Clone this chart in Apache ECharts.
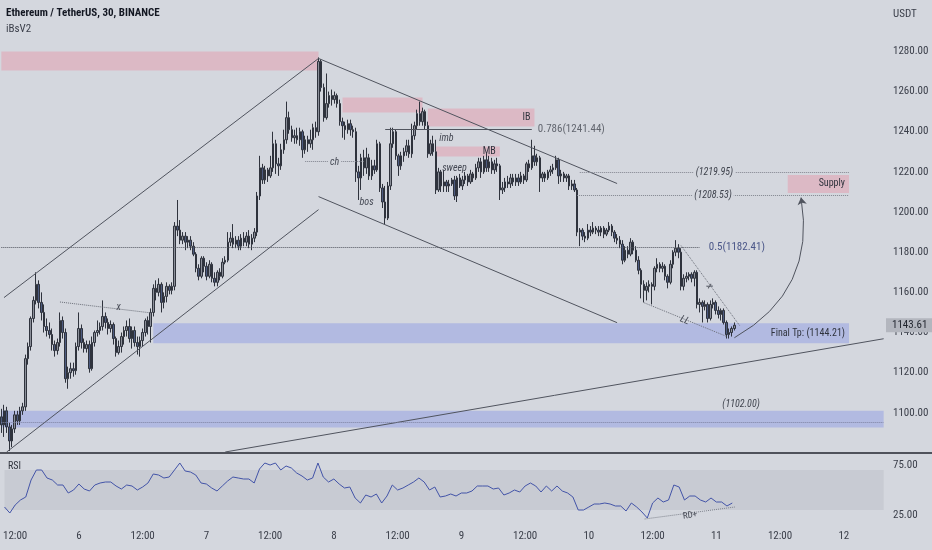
<!DOCTYPE html>
<html>
<head>
<meta charset="utf-8">
<script src="https://cdn.jsdelivr.net/npm/echarts@6/dist/echarts.min.js"></script>
<style>
html,body{margin:0;padding:0;background:#d4d7de;}
#chart{width:932px;height:550px;}
</style>
</head>
<body>
<div id="chart"></div>
<script>
// ================= DATA =================
// 30-minute candles, first candle = day 5, 10:00
const startDay = 5, startMinute = 600, stepMinutes = 30, slotCount = 332;

const opens = [
1098,1094,1101,1093,1086,1092,1099,1096,1101,1103,
1127,1133,1147,1156,1164,1155,1150,1143,1141,1139,
1134,1131,1135,1146,1140,1117,1120,1122,1121,1133,
1142,1135,1132,1134,1122,1135,1140,1141,1143,1148,
1145,1142,1144,1137,1130,1133,1138,1141,1143,1137,
1141,1135,1133,1136,1140,1146,1143,1150,1162,1160,
1164,1155,1158,1163,1161,1163,1193,1191,1186,1188,
1185,1186,1183,1179,1172,1168,1177,1173,1168,1174,
1167,1165,1170,1168,1175,1176,1185,1187,1184,1186,
1183,1187,1185,1188,1184,1187,1190,1208,1222,1216,
1221,1218,1222,1234,1224,1223,1231,1236,1247,1241,
1237,1238,1236,1240,1231,1236,1234,1236,1242,1240,
1275,1262,1247,1254,1258,1256,1258,1254,1245,1243,
1241,1244,1241,1240,1220,1217,1227,1222,1227,1218,
1223,1221,1234,1212,1205,1197,1213,1234,1240,1228,
1223,1228,1230,1233,1229,1238,1243,1249,1245,1250,
1243,1229,1234,1230,1211,1220,1213,1215,1213,1214,
1216,1208,1217,1213,1216,1218,1215,1219,1217,1222,
1225,1220,1226,1222,1225,1221,1224,1223,1211,1212,
1215,1214,1217,1215,1217,1215,1218,1216,1224,1222,
1228,1225,1227,1217,1219,1217,1220,1221,1222,1226,
1218,1219,1217,1218,1213,1214,1211,1190,1191,1188,
1187,1191,1190,1192,1191,1190,1192,1189,1191,1193,
1190,1187,1186,1184,1176,1181,1179,1185,1181,1176,
1171,1164,1161,1163,1164,1163,1172,1174,1172,1173,
1168,1165,1174,1180,1182,1180,1163,1167,1168,1169,
1167,1170,1154,1155,1153,1154,1147,1154,1155,1151,
1149,1151,1145,1139,1140,1142
];
const closes = [
1094,1101,1093,1086,1092,1099,1096,1101,1103,1127,
1133,1147,1156,1164,1155,1150,1143,1141,1139,1134,
1131,1135,1146,1140,1117,1120,1122,1121,1133,1142,
1135,1132,1134,1122,1135,1140,1141,1143,1148,1145,
1142,1144,1137,1130,1133,1138,1141,1143,1137,1141,
1135,1133,1136,1140,1146,1143,1150,1162,1160,1164,
1155,1158,1163,1161,1163,1193,1191,1186,1188,1185,
1186,1183,1179,1172,1168,1177,1173,1168,1174,1167,
1165,1170,1168,1175,1176,1185,1187,1184,1186,1183,
1187,1185,1188,1184,1187,1190,1208,1222,1216,1221,
1218,1222,1234,1224,1223,1231,1236,1247,1241,1237,
1238,1236,1240,1231,1236,1234,1236,1242,1240,1275,
1262,1247,1254,1258,1256,1258,1254,1245,1243,1241,
1244,1241,1240,1220,1217,1227,1222,1227,1218,1223,
1221,1234,1212,1205,1197,1213,1234,1240,1228,1223,
1228,1230,1233,1229,1238,1243,1249,1245,1250,1243,
1229,1234,1230,1211,1220,1213,1215,1213,1214,1216,
1208,1217,1213,1216,1218,1215,1219,1217,1222,1225,
1220,1226,1222,1225,1221,1224,1223,1211,1212,1215,
1214,1217,1215,1217,1215,1218,1216,1224,1222,1228,
1225,1227,1217,1219,1217,1220,1221,1222,1226,1218,
1219,1217,1218,1213,1214,1211,1190,1191,1188,1187,
1191,1190,1192,1191,1190,1192,1189,1191,1193,1190,
1187,1186,1184,1176,1181,1179,1185,1181,1176,1171,
1164,1161,1163,1164,1163,1172,1174,1172,1173,1168,
1165,1174,1180,1182,1180,1163,1167,1168,1169,1167,
1170,1154,1155,1153,1154,1147,1154,1155,1151,1149,
1151,1145,1139,1140,1142,1143.61
];
const lows = [
1090,1088,1090,1081,1083,1090,1094,1094,1099,1101,
1124,1131,1145,1154,1152,1146,1140,1138,1137,1131,
1128,1129,1133,1137,1115,1112,1117,1118,1119,1131,
1132,1130,1130,1120,1121,1133,1138,1139,1141,1142,
1139,1140,1134,1128,1129,1130,1134,1138,1135,1132,
1133,1129,1128,1133,1138,1139,1135,1148,1156,1158,
1150,1152,1155,1159,1159,1161,1188,1184,1184,1181,
1182,1181,1178,1170,1166,1167,1170,1166,1167,1165,
1163,1163,1166,1167,1174,1175,1183,1182,1182,1181,
1181,1183,1183,1182,1181,1185,1188,1206,1214,1214,
1215,1217,1220,1219,1218,1221,1229,1234,1239,1235,
1234,1234,1233,1227,1229,1230,1232,1231,1237,1238,
1260,1245,1246,1252,1253,1254,1252,1243,1237,1236,
1239,1238,1237,1215,1206,1211,1218,1219,1216,1216,
1219,1220,1210,1202,1194,1196,1211,1232,1226,1218,
1221,1225,1228,1227,1227,1236,1241,1243,1243,1241,
1227,1228,1228,1209,1210,1210,1210,1210,1210,1213,
1206,1205,1212,1211,1214,1213,1214,1215,1216,1220,
1217,1219,1220,1220,1219,1219,1220,1206,1209,1210,
1212,1212,1213,1213,1213,1214,1214,1215,1220,1221,
1223,1223,1210,1215,1215,1216,1218,1219,1221,1214,
1215,1215,1215,1211,1211,1210,1188,1183,1186,1185,
1186,1188,1189,1189,1188,1188,1187,1188,1190,1188,
1185,1184,1182,1174,1175,1177,1178,1179,1175,1169,
1157,1155,1156,1160,1154,1161,1170,1170,1170,1166,
1162,1164,1172,1178,1177,1161,1161,1165,1166,1165,
1163,1152,1150,1145,1151,1145,1146,1152,1149,1147,
1146,1144,1137,1137,1138,1141
];
const highs = [
1102,1104,1103,1095,1094,1101,1101,1103,1105,1129,
1135,1148,1158,1170,1166,1160,1154,1147,1145,1142,
1136,1137,1150,1148,1142,1123,1125,1125,1135,1150,
1144,1137,1136,1136,1138,1141,1146,1145,1156,1150,
1147,1146,1145,1138,1136,1140,1143,1146,1147,1143,
1143,1138,1138,1142,1147,1148,1152,1164,1166,1167,
1165,1160,1165,1164,1165,1195,1206,1196,1190,1190,
1188,1188,1185,1180,1174,1178,1178,1175,1176,1175,
1170,1171,1172,1177,1178,1190,1190,1194,1188,1188,
1189,1190,1190,1191,1189,1192,1210,1228,1224,1223,
1222,1228,1240,1236,1227,1234,1241,1255,1250,1243,
1241,1242,1242,1241,1238,1238,1241,1244,1245,1277,
1276,1264,1269,1260,1261,1260,1259,1256,1247,1245,
1246,1246,1243,1242,1223,1229,1231,1232,1229,1226,
1226,1236,1235,1214,1213,1215,1242,1242,1241,1229,
1230,1232,1236,1236,1244,1245,1251,1255,1252,1251,
1245,1236,1238,1236,1222,1221,1221,1216,1216,1217,
1218,1218,1219,1218,1220,1219,1221,1220,1224,1227,
1227,1228,1229,1228,1227,1226,1227,1224,1215,1217,
1218,1219,1219,1219,1219,1220,1219,1225,1226,1236,
1233,1229,1228,1220,1220,1221,1223,1224,1228,1227,
1221,1220,1219,1219,1216,1216,1212,1192,1192,1190,
1194,1193,1195,1193,1193,1193,1193,1192,1195,1194,
1191,1189,1188,1186,1183,1183,1187,1186,1183,1178,
1172,1166,1165,1166,1165,1173,1177,1175,1175,1174,
1169,1176,1181,1186,1184,1182,1169,1170,1170,1170,
1171,1171,1157,1156,1156,1155,1156,1157,1156,1153,
1152,1152,1146,1142,1143,1145
];

// RSI read every 2 candles (candle index = k * rsiStep)
const rsiStep = 2;
const rsiValues = [
33,27,35,40,43,60,70,70,62,60,
55,55,47,50,56,51,49,55,57,58,
58,54,51,55,54,50,53,57,66,65,
62,63,70,77,69,68,65,57,56,52,
49,54,59,63,62,61,61,57,71,77,
75,77,70,74,72,67,64,60,62,77,
63,58,61,56,52,53,42,37,45,43,
46,37,44,55,50,52,55,58,62,58,
50,53,43,44,46,44,47,47,49,54,
54,54,51,52,45,47,50,48,54,57,
54,48,54,49,54,49,47,43,30,30,
33,36,36,37,36,34,34,29,37,33,
28,22,37,42,38,40,55,53,40,44,
44,40,38,42,38,38,34,37
];
const rsiUpper = 70, rsiLower = 30;
const rsiTickLabels = [25, 75];
const priceTickMax = 1280;
const lastPrice = 1143.61;

// zones: [startIdx, topPrice, endIdx, bottomPrice, kind, label]
const zones = [
  [0, 1280, 119, 1270.5, 'red', ''],
  [128, 1257, 158, 1249.6, 'red', ''],
  [160, 1251.6, 200, 1242.6, 'red', 'IB'],
  [163, 1232.6, 187, 1227.7, 'red', 'MB'],
  [295, 1218.5, 318, 1209.5, 'red', 'Supply'],
  [57, 1144.6, 318, 1134.6, 'blue', 'Final Tp: (1144.21)'],
  [0, 1101, 331, 1092.7, 'blue', '']
];
// solid trend lines: [idx1, price1, idx2, price2]
const trendLines = [
  [1, 1157.4, 119, 1276.5],
  [2, 1080.5, 119, 1201.2],
  [119, 1276.5, 231, 1214.2],
  [119, 1207.7, 231, 1144.9],
  [84, 1080.5, 331, 1136.9]
];
// dotted sketch lines: [idx1, price1, idx2, price2, label]
const sketchLines = [
  [22, 1155.2, 56, 1149.8, ''],
  [241, 1154.9, 272, 1138.1, 'LL'],
  [255, 1183.3, 277, 1143.4, 'x'],
  [114, 1225.2, 136, 1225.2, 'ch']
];
// horizontal levels: [idx1, idx2, price, label, kind]
const levels = [
  [144, 199, 1241.44, '0.786(1241.44)', 'fib'],
  [0, 262, 1182.41, '0.5(1182.41)', 'fibDot'],
  [217, 318, 1219.95, '(1219.95)', 'tag'],
  [216, 318, 1208.53, '(1208.53)', 'tag'],
  [224, 331, 1102.00, '(1102.00)', 'hiddenTag'],
  [0, 331, 1095.2, '', 'plainDot']
];
// text notes: [idx, price, text]
const notes = [
  [44, 1152.4, 'x'],
  [137, 1204.7, 'bos'],
  [167, 1236.6, 'imb'],
  [170, 1221.7, 'sweep']
];
// projected path arrow
const arrowPath = [[275, 1137.4], [300, 1207.2]];
// RSI divergence line: [idx1, rsi1, idx2, rsi2, label]
const rsiDivergence = [241, 21, 275, 33, 'RD+'];

// ================= CHART =================
const FONT = "'Liberation Sans Narrow', 'Roboto Condensed', 'Liberation Sans', Roboto, sans-serif";
const BG = '#d4d7de';
const TXT = '#3a3e49';
const LINE = '#50545e';
const zoneColors = {red: '#dcb9c5', blue: '#b2bae1'};

const categories = [];
for (let i = 0; i < slotCount; i++) {
  const m = startMinute + i * stepMinutes;
  const day = startDay + Math.floor(m / 1440);
  const mm = m % 1440;
  categories.push(day + ' ' + String(Math.floor(mm / 60)).padStart(2, '0') + ':' + String(mm % 60).padStart(2, '0'));
}

const candleData = closes.map((c, i) => [opens[i], c, lows[i], highs[i]]);

const markAreaData = zones.map(z => [
  {
    coord: [z[0], z[1]],
    itemStyle: {color: zoneColors[z[4]]},
    label: {show: !!z[5], formatter: z[5], position: 'insideRight', color: '#2f333d', fontSize: 10, fontFamily: FONT, distance: 4}
  },
  {coord: [z[2], z[3]]}
]);

const mlData = [];
trendLines.forEach(t => mlData.push([
  {coord: [t[0], t[1]], lineStyle: {color: LINE, width: 1, type: 'solid'}, label: {show: false}},
  {coord: [t[2], t[3]]}
]));
sketchLines.forEach(t => {
  const isCh = t[4] === 'ch';
  mlData.push([
    {coord: [t[0], t[1]],
     lineStyle: {color: isCh ? '#7d818b' : '#6a6e78', width: 1, type: 'dotted'},
     label: {show: !!t[4], formatter: t[4], position: 'middle', distance: [0, -6], color: '#454954', fontSize: 10, fontStyle: 'italic', fontFamily: FONT,
             backgroundColor: isCh ? BG : 'transparent', padding: isCh ? [0, 2] : 0}},
    {coord: [t[2], t[3]]}
  ]);
});
levels.forEach(l => {
  const kind = l[4];
  let ls, lab;
  if (kind === 'fib') {
    ls = {color: LINE, width: 1, type: 'solid'};
    lab = {show: true, formatter: l[3], position: 'end', distance: 6, color: '#62666f', fontSize: 11, fontFamily: FONT};
  } else if (kind === 'fibDot') {
    ls = {color: '#4e525c', width: 1, type: 'dotted'};
    lab = {show: true, formatter: l[3], position: 'end', distance: 9, color: '#4a5688', fontSize: 11, fontFamily: FONT};
  } else if (kind === 'tag') {
    ls = {color: '#80848e', width: 1, type: 'dotted'};
    lab = {show: true, formatter: l[3], position: 'middle', distance: [0, -6], color: '#3f434d', fontSize: 10, fontStyle: 'italic', fontFamily: FONT, backgroundColor: BG, padding: [0, 2]};
  } else if (kind === 'hiddenTag') {
    ls = {color: 'rgba(0,0,0,0)', width: 1};
    lab = {show: true, formatter: l[3], position: 'middle', distance: [0, -1], color: '#3f434d', fontSize: 10, fontStyle: 'italic', fontFamily: FONT};
  } else {
    ls = {color: '#7d82a0', width: 1, type: 'dotted'};
    lab = {show: false};
  }
  mlData.push([{coord: [l[0], l[2]], lineStyle: ls, label: lab}, {coord: [l[1], l[2]]}]);
});

const mpData = notes.map(n => ({
  coord: [n[0], n[1]],
  symbol: 'circle', symbolSize: 0,
  label: {show: true, position: 'inside', formatter: n[2], color: '#454954', fontSize: 10, fontStyle: 'italic', fontFamily: FONT}
}));

const option = {
  backgroundColor: BG,
  animation: false,
  textStyle: {fontFamily: FONT},
  grid: [
    {left: 0, right: 47, top: 0, height: 453},
    {left: 0, right: 47, top: 455, height: 65}
  ],
  xAxis: [
    {type: 'category', gridIndex: 0, data: categories, boundaryGap: true,
     axisLine: {show: false}, axisTick: {show: false}, axisLabel: {show: false}, splitLine: {show: false}},
    {type: 'category', gridIndex: 1, data: categories, boundaryGap: true,
     axisLine: {show: false}, axisTick: {show: false}, splitLine: {show: false},
     axisLabel: {
       interval: (idx, val) => { const t = val.split(' ')[1]; return t === '00:00' || t === '12:00'; },
       formatter: v => { const p = v.split(' '); return p[1] === '00:00' ? p[0] : p[1]; },
       color: TXT, fontSize: 11, margin: 11, fontFamily: FONT
     }}
  ],
  yAxis: [
    {type: 'value', gridIndex: 0, position: 'right', min: 1080, max: 1305.6, interval: 20,
     splitLine: {show: false}, axisLine: {show: false}, axisTick: {show: false},
     axisLabel: {showMinLabel: false, showMaxLabel: false, formatter: v => v <= priceTickMax ? v.toFixed(2) : '', color: TXT, fontSize: 11, margin: 8, fontFamily: FONT}},
    {type: 'value', gridIndex: 1, position: 'right', min: 20, max: 85, interval: 5,
     splitLine: {show: false}, axisLine: {show: false}, axisTick: {show: false},
     axisLabel: {formatter: v => rsiTickLabels.includes(v) ? v.toFixed(2) : '', color: TXT, fontSize: 11, margin: 8, fontFamily: FONT}}
  ],
  series: [
    {
      type: 'candlestick', name: 'ETHUSDT', xAxisIndex: 0, yAxisIndex: 0,
      data: candleData,
      barWidth: 2,
      itemStyle: {color: '#8b8f99', color0: '#4d5b80', borderColor: '#2f333d', borderColor0: '#2f333d', borderWidth: 1},
      markArea: {silent: true, data: markAreaData},
      markLine: {silent: true, symbol: ['none', 'none'], data: mlData},
      markPoint: {silent: true, data: mpData}
    },
    {
      // last price tag on the price scale
      type: 'line', name: 'last', xAxisIndex: 0, yAxisIndex: 0, data: [], silent: true, z: 10,
      markLine: {silent: true, symbol: ['none', 'none'], data: [{
        yAxis: lastPrice,
        lineStyle: {color: 'rgba(0,0,0,0)', width: 1},
        label: {show: true, position: 'end', distance: 1, formatter: lastPrice.toFixed(2), color: '#1f232c', fontSize: 11, fontFamily: FONT,
                backgroundColor: '#b3b6be', padding: [2, 6, 1, 6]}
      }]}
    },
    {
      type: 'lines', coordinateSystem: 'cartesian2d', xAxisIndex: 0, yAxisIndex: 0,
      symbol: ['none', 'arrow'], symbolSize: 7, silent: true, z: 6,
      lineStyle: {color: LINE, width: 1, curveness: -0.35, opacity: 1},
      data: [{coords: arrowPath}]
    },
    {
      type: 'line', name: 'RSI', xAxisIndex: 1, yAxisIndex: 1,
      data: rsiValues.map((v, k) => [k * rsiStep, v]),
      showSymbol: false, symbol: 'none',
      lineStyle: {color: '#4354a8', width: 1},
      markArea: {silent: true, itemStyle: {color: '#c8cbd3'}, data: [[{coord: [0, rsiUpper]}, {coord: [slotCount - 1, rsiLower]}]]},
      markLine: {silent: true, symbol: ['none', 'none'], data: [[
        {coord: [rsiDivergence[0], rsiDivergence[1]], lineStyle: {color: '#7d818b', type: 'dotted', width: 1},
         label: {show: true, formatter: rsiDivergence[4], position: 'middle', distance: [0, -7], color: '#454954', fontSize: 9, fontFamily: FONT}},
        {coord: [rsiDivergence[2], rsiDivergence[3]]}
      ]]}
    }
  ],
  graphic: [
    {type: 'rect', shape: {x: 0, y: 452, width: 932, height: 2}, style: {fill: '#4f525b'}, silent: true},
    {type: 'text', left: 6, top: 8, style: {text: 'Ethereum / TetherUS, 30, BINANCE', fill: '#131722', fontSize: 11, fontWeight: 'bold', fontFamily: FONT}},
    {type: 'text', left: 6, top: 24, style: {text: 'iBsV2', fill: '#3a3e49', fontSize: 11, fontFamily: FONT}},
    {type: 'text', left: 893, top: 9, style: {text: 'USDT', fill: '#3a3e49', fontSize: 11, fontFamily: FONT}},
    {type: 'text', left: 8, top: 461, style: {text: 'RSI', fill: '#2f333d', fontSize: 10, fontFamily: FONT}}
  ]
};

const chart = echarts.init(document.getElementById('chart'), null, {renderer: 'canvas'});
chart.setOption(option);
</script>
</body>
</html>
